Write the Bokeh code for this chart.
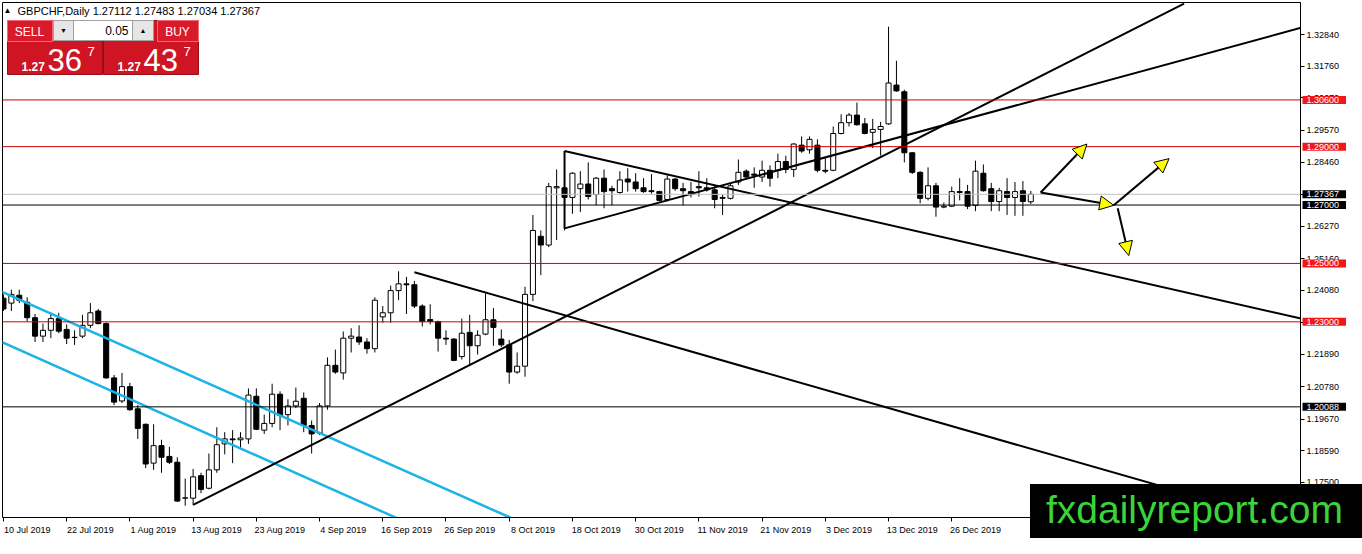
from bokeh.plotting import figure
from bokeh.models import (Range1d, LinearAxis, FixedTicker, PrintfTickFormatter,
                          Label, BoxAnnotation, Arrow, NormalHead, Span, ColumnDataSource)
from bokeh.embed import file_html
from bokeh.resources import INLINE

# ---------------- data ----------------
symbol = "GBPCHF,Daily"
last_ohlc = ["1.27112", "1.27483", "1.27034", "1.27367"]
bid_text = ("1.27", "36", "7")
ask_text = ("1.27", "43", "7")
lot_text = "0.05"
watermark = "fxdailyreport.com"

label_bars = [0, 8, 16, 24, 32, 40, 48, 56, 64, 72, 80, 88, 96, 104, 112, 120]
date_labels = ["10 Jul 2019", "22 Jul 2019", "1 Aug 2019", "13 Aug 2019", "23 Aug 2019",
               "4 Sep 2019", "16 Sep 2019", "26 Sep 2019", "8 Oct 2019", "18 Oct 2019",
               "30 Oct 2019", "11 Nov 2019", "21 Nov 2019", "3 Dec 2019", "13 Dec 2019",
               "26 Dec 2019"]

opens = [1.2381, 1.2364, 1.2391, 1.2367, 1.2314, 1.2251, 1.2271, 1.2311, 1.2274, 1.2247,
         1.2251, 1.2288, 1.2337, 1.2294, 1.2108, 1.2029, 1.2078, 1.2002, 1.1949, 1.1816,
         1.1876, 1.1839, 1.1819, 1.1696, 1.1696, 1.1773, 1.1730, 1.1793, 1.1882, 1.1899,
         1.1896, 1.1899, 1.2045, 1.1929, 1.1952, 1.2052, 1.1982, 1.2012, 1.2038, 1.1945,
         1.1919, 1.2012, 1.2151, 1.2125, 1.2244, 1.2248, 1.2231, 1.2208, 1.2317, 1.2331,
         1.2407, 1.2430, 1.2427, 1.2354, 1.2308, 1.2301, 1.2244, 1.2241, 1.2181, 1.2264,
         1.2218, 1.2258, 1.2307, 1.2241, 1.2221, 1.2128, 1.2148, 1.2394, 1.2593, 1.2563,
         1.2759, 1.2759, 1.2726, 1.2756, 1.2772, 1.2736, 1.2792, 1.2756, 1.2743, 1.2789,
         1.2779, 1.2759, 1.2749, 1.2746, 1.2719, 1.2789, 1.2756, 1.2746, 1.2763, 1.2759,
         1.2752, 1.2726, 1.2723, 1.2779, 1.2816, 1.2806, 1.2796, 1.2819, 1.2819, 1.2849,
         1.2822, 1.2905, 1.2889, 1.2905, 1.2819, 1.2819, 1.2945, 1.2982, 1.3008, 1.2978,
         1.2949, 1.2959, 1.2978, 1.3111, 1.3088, 1.2879, 1.2812, 1.2723, 1.2766, 1.2693,
         1.2696, 1.2746, 1.2746, 1.2699, 1.2809, 1.2756, 1.2712, 1.2746, 1.2726, 1.2749,
         1.27112]
highs = [1.2394, 1.2410, 1.2410, 1.2384, 1.2327, 1.2294, 1.2331, 1.2331, 1.2291, 1.2271,
         1.2324, 1.2364, 1.2344, 1.2298, 1.2118, 1.2125, 1.2091, 1.2015, 1.1952, 1.1949,
         1.1896, 1.1872, 1.1836, 1.1763, 1.1796, 1.1783, 1.1849, 1.1939, 1.1922, 1.1929,
         1.1922, 1.2072, 1.2072, 1.1982, 1.2088, 1.2062, 1.2035, 1.2075, 1.2058, 1.1962,
         1.2022, 1.2178, 1.2205, 1.2267, 1.2278, 1.2288, 1.2244, 1.2384, 1.2354, 1.2424,
         1.2473, 1.2454, 1.2440, 1.2360, 1.2360, 1.2304, 1.2271, 1.2244, 1.2311, 1.2324,
         1.2271, 1.2397, 1.2347, 1.2274, 1.2238, 1.2195, 1.2420, 1.2666, 1.2613, 1.2776,
         1.2822, 1.2885, 1.2812, 1.2816, 1.2846, 1.2796, 1.2822, 1.2766, 1.2816, 1.2826,
         1.2809, 1.2792, 1.2806, 1.2749, 1.2802, 1.2792, 1.2776, 1.2779, 1.2816, 1.2792,
         1.2766, 1.2736, 1.2772, 1.2856, 1.2822, 1.2829, 1.2852, 1.2836, 1.2876, 1.2869,
         1.2912, 1.2935, 1.2935, 1.2925, 1.2862, 1.2969, 1.3011, 1.3015, 1.3051, 1.2998,
         1.2995, 1.2985, 1.3311, 1.3194, 1.3095, 1.2882, 1.2816, 1.2829, 1.2776, 1.2709,
         1.2763, 1.2792, 1.2769, 1.2852, 1.2839, 1.2776, 1.2759, 1.2792, 1.2779, 1.2782,
         1.27483]
lows = [1.2337, 1.2337, 1.2364, 1.2301, 1.2231, 1.2231, 1.2244, 1.2261, 1.2224, 1.2221,
        1.2244, 1.2278, 1.2291, 1.2105, 1.2015, 1.2022, 1.1995, 1.1899, 1.1799, 1.1793,
        1.1783, 1.1813, 1.1683, 1.1670, 1.1673, 1.1713, 1.1726, 1.1783, 1.1846, 1.1816,
        1.1866, 1.1882, 1.1929, 1.1916, 1.1939, 1.1929, 1.1945, 1.2005, 1.1922, 1.1849,
        1.1912, 1.1999, 1.2122, 1.2102, 1.2195, 1.2221, 1.2191, 1.2195, 1.2297, 1.2297,
        1.2374, 1.2327, 1.2347, 1.2284, 1.2291, 1.2198, 1.2221, 1.2165, 1.2171, 1.2155,
        1.2188, 1.2254, 1.2218, 1.2214, 1.2088, 1.2122, 1.2112, 1.2371, 1.2460, 1.2556,
        1.2580, 1.2613, 1.2670, 1.2676, 1.2719, 1.2699, 1.2689, 1.2699, 1.2739, 1.2746,
        1.2746, 1.2742, 1.2739, 1.2712, 1.2712, 1.2749, 1.2699, 1.2726, 1.2729, 1.2746,
        1.2689, 1.2666, 1.2719, 1.2769, 1.2792, 1.2759, 1.2779, 1.2763, 1.2792, 1.2809,
        1.2796, 1.2879, 1.2876, 1.2812, 1.2809, 1.2816, 1.2942, 1.2969, 1.2972, 1.2942,
        1.2895, 1.2869, 1.2975, 1.3088, 1.2846, 1.2806, 1.2706, 1.2716, 1.2660, 1.2689,
        1.2693, 1.2716, 1.2686, 1.2679, 1.2746, 1.2679, 1.2679, 1.2666, 1.2663, 1.2663,
        1.27034]
closes = [1.2344, 1.2394, 1.2374, 1.2314, 1.2251, 1.2271, 1.2311, 1.2268, 1.2244, 1.2246,
          1.2288, 1.2331, 1.2294, 1.2108, 1.2025, 1.2078, 1.1999, 1.1935, 1.1813, 1.1876,
          1.1836, 1.1819, 1.1686, 1.1697, 1.1769, 1.1726, 1.1793, 1.1879, 1.1899, 1.1896,
          1.1902, 1.2049, 1.1932, 1.1952, 1.2052, 1.1979, 1.2012, 1.2028, 1.1945, 1.1916,
          1.2012, 1.2151, 1.2128, 1.2244, 1.2251, 1.2231, 1.2208, 1.2374, 1.2331, 1.2407,
          1.2430, 1.2427, 1.2354, 1.2301, 1.2301, 1.2244, 1.2241, 1.2168, 1.2261, 1.2218,
          1.2254, 1.2307, 1.2281, 1.2221, 1.2128, 1.2148, 1.2394, 1.2613, 1.2563, 1.2763,
          1.2763, 1.2726, 1.2809, 1.2772, 1.2729, 1.2792, 1.2746, 1.2749, 1.2786, 1.2779,
          1.2756, 1.2746, 1.2746, 1.2716, 1.2789, 1.2756, 1.2749, 1.2736, 1.2759, 1.2752,
          1.2719, 1.2723, 1.2766, 1.2812, 1.2796, 1.2802, 1.2819, 1.2792, 1.2849, 1.2822,
          1.2909, 1.2885, 1.2925, 1.2819, 1.2816, 1.2945, 1.2982, 1.3008, 1.2975, 1.2945,
          1.2959, 1.2969, 1.3118, 1.3091, 1.2879, 1.2812, 1.2723, 1.2766, 1.2693, 1.2696,
          1.2746, 1.2743, 1.2696, 1.2816, 1.2749, 1.2712, 1.2749, 1.2726, 1.2746, 1.2712,
          1.27367]

price_ticks = [1.32840, 1.31760, 1.30670, 1.29570, 1.28460, 1.27350, 1.26270, 1.25160,
               1.24080, 1.22990, 1.21890, 1.20780, 1.19670, 1.18590, 1.17500]
red_levels = [1.30600, 1.29000, 1.25000, 1.23000]
black_levels = [1.27000, 1.20088]
bid_price = 1.27367

# trend lines (bar index, price)
trend_x0 = [24, 71, 71, 52, 71]
trend_y0 = [1.1673, 1.2620, 1.2885, 1.2470, 1.2885]
trend_x1 = [149.4, 164.2, 164.2, 164.2, 71]
trend_y1 = [1.3390, 1.3307, 1.2311, 1.1600, 1.2620]

channel_x0 = [-1, -1]
channel_y0 = [1.2412, 1.2240]
channel_x1 = [66, 52]
channel_y1 = [1.1607, 1.1601]

arrow_x0 = [131.25, 131.25, 140.5, 141.0]
arrow_y0 = [1.2743, 1.2743, 1.2699, 1.2689]
arrow_x1 = [137.1, 140.5, 147.5, 142.4]
arrow_y1 = [1.2909, 1.2699, 1.2859, 1.2527]

# watermark anchor (bar index, price of text baseline)
wm_x, wm_y = 129.9, 1.16232

# ---------------- figure ----------------
FONT = "Liberation Sans"
x_start, x_end = -0.12, 164.13
y_start, y_end = 1.16298, 1.33937
FW, FH = 1298, 515

p = figure(frame_width=FW, frame_height=FH,
           x_range=Range1d(x_start, x_end), y_range=Range1d(y_start, y_end),
           x_axis_location=None, y_axis_location=None,
           output_backend="svg", toolbar_location=None,
           min_border_left=2, min_border_top=2, min_border_right=46, min_border_bottom=21)
p.grid.visible = False
p.outline_line_color = "black"
p.outline_line_width = 1
p.background_fill_color = "white"
p.border_fill_color = "white"

yaxis = LinearAxis(ticker=FixedTicker(ticks=price_ticks, minor_ticks=[]),
                   formatter=PrintfTickFormatter(format="%.5f"),
                   major_tick_in=0, major_tick_out=4, minor_tick_line_color=None,
                   major_label_standoff=2, axis_line_color="black",
                   major_tick_line_color="black",
                   major_label_text_font=FONT, major_label_text_font_size="9px",
                   major_label_text_color="black")
p.add_layout(yaxis, "right")

centers = [b + 3 for b in label_bars]
xaxis = LinearAxis(ticker=FixedTicker(ticks=centers, minor_ticks=label_bars),
                   major_label_overrides={c: t for c, t in zip(centers, date_labels)},
                   major_tick_in=0, major_tick_out=0, major_tick_line_color=None,
                   minor_tick_in=0, minor_tick_out=4, minor_tick_line_color="black",
                   major_label_standoff=3, axis_line_color="black",
                   major_label_text_font=FONT, major_label_text_font_size="9px",
                   major_label_text_color="black")
p.add_layout(xaxis, "below")

# levels
for lv in red_levels:
    p.add_layout(Span(location=lv, dimension="width", line_color="#d00000", line_width=1))
for lv in black_levels:
    p.add_layout(Span(location=lv, dimension="width", line_color="black", line_width=1))
p.add_layout(Span(location=bid_price, dimension="width", line_color="#c0c0c0", line_width=1))

# candles
xs = list(range(len(opens)))
src = ColumnDataSource(dict(
    x=xs, high=highs, low=lows,
    top=[max(o, c) for o, c in zip(opens, closes)],
    bottom=[min(o, c) for o, c in zip(opens, closes)],
    fill=["white" if c >= o else "black" for o, c in zip(opens, closes)]))
p.segment(x0="x", y0="high", x1="x", y1="low", source=src, line_color="black", line_width=1)
p.vbar(x="x", width=0.64, top="top", bottom="bottom", fill_color="fill",
       line_color="black", line_width=1, source=src)

# channel (cyan) and trend lines
p.segment(x0=channel_x0, y0=channel_y0, x1=channel_x1, y1=channel_y1,
          line_color="#1db3e6", line_width=2.5)
p.segment(x0=trend_x0, y0=trend_y0, x1=trend_x1, y1=trend_y1,
          line_color="black", line_width=2)

# arrows
for a, b, c, d in zip(arrow_x0, arrow_y0, arrow_x1, arrow_y1):
    p.add_layout(Arrow(end=NormalHead(size=14, fill_color="#ffff00", line_color="black",
                                      line_width=1),
                       x_start=a, y_start=b, x_end=c, y_end=d,
                       line_color="black", line_width=2))

# price tags on the right scale (placed in the side panel so they are not clipped)
def tag(price, bg):
    p.add_layout(Label(x=x_end, y=price, x_offset=2, text=f"{price:.5f}",
                       text_color="white", text_font=FONT, text_font_size="9px",
                       text_baseline="middle", text_align="left",
                       background_fill_color=bg,
                       padding=dict(left=4, right=7, top=1, bottom=1)), "right")

for lv in red_levels:
    tag(lv, "#f01818")
tag(bid_price, "black")
for lv in black_levels:
    tag(lv, "black")

# ---------------- header & trading panel (screen units, frame-relative) ----------------
def box(l, r, t, b, fill, line=None):
    p.add_layout(BoxAnnotation(left=l, right=r, top=t, bottom=b,
                               left_units="screen", right_units="screen",
                               top_units="screen", bottom_units="screen",
                               fill_color=fill, fill_alpha=1.0,
                               line_color=line, line_width=1, line_alpha=1.0))

def txt(x, y, s, size, color="white", align="left", baseline="middle", style="normal"):
    p.add_layout(Label(x=x, y=y, x_units="screen", y_units="screen", text=s,
                       text_font=FONT, text_font_size=size, text_color=color,
                       text_align=align, text_baseline=baseline, text_font_style=style))

txt(5, 507, "\u25b2", "8px", color="black", align="center")
txt(15, 507, f"{symbol}  " + " ".join(last_ohlc), "11px", color="black")

box(5, 100, 497, 443, "#cf1424", "#9a0c16")
box(101, 196, 497, 443, "#cf1424", "#9a0c16")
box(5, 50, 497, 476, "#d81a2a", "#f06a72")
box(155, 196, 497, 476, "#d81a2a", "#f06a72")
box(51, 151, 497, 477, "white", "#a0a0a0")
box(51, 71, 497, 477, "#e6e6e6", "#a0a0a0")
box(130, 151, 497, 477, "#e6e6e6", "#a0a0a0")
txt(61, 487, "\u25bc", "7px", color="black", align="center")
txt(140.5, 487, "\u25b2", "7px", color="black", align="center")
txt(126, 487, lot_text, "12px", color="black", align="right")
txt(27, 486, "SELL", "12px", align="center")
txt(175, 486, "BUY", "12px", align="center")

txt(19, 451, bid_text[0], "12px", style="bold")
txt(45, 458, bid_text[1], "31px")
txt(85, 466, bid_text[2], "13px")
txt(115, 451, ask_text[0], "12px", style="bold")
txt(141, 458, ask_text[1], "31px")
txt(181, 466, ask_text[2], "13px")

# watermark (side panel -> not clipped to the frame)
p.add_layout(Label(x=wm_x, y=wm_y, text=watermark, text_font=FONT, text_font_size="39px",
                   text_color="#3ad43a", text_align="left", text_baseline="alphabetic",
                   background_fill_color="black",
                   padding=dict(left=16, right=24, top=4, bottom=24)), "right")

open("out.html", "w").write(file_html(p, INLINE))
